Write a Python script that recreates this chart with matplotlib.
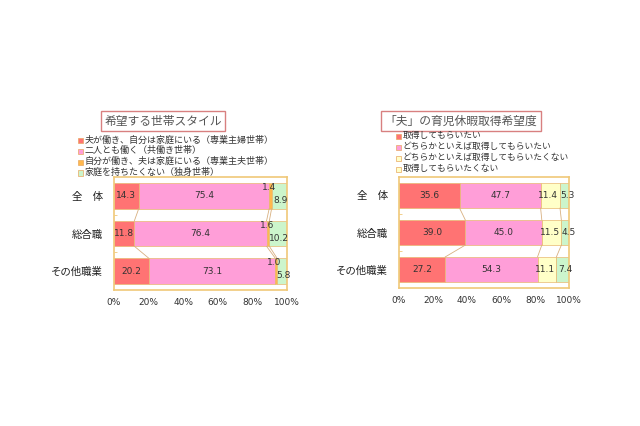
import matplotlib.pyplot as plt
from matplotlib.patches import Rectangle
import numpy as np

plt.rcParams['font.family'] = ['Noto Sans CJK JP', 'DejaVu Sans']

categories = ["全　体", "総合職", "その他職業"]

# left chart: household style
left_title = "希望する世帯スタイル"
left_legend = ["夫が働き、自分は家庭にいる（専業主婦世帯）",
               "二人とも働く（共働き世帯）",
               "自分が働き、夫は家庭にいる（専業主夫世帯）",
               "家庭を持ちたくない（独身世帯）"]
left_values = [[14.3, 75.4, 1.4, 8.9],
               [11.8, 76.4, 1.6, 10.2],
               [20.2, 73.1, 1.0, 5.8]]
left_colors = ["#FF7373", "#FF9ED8", "#FFB84D", "#CCF5CC"]

# right chart: husband's childcare leave
right_title = "「夫」の育児休暇取得希望度"
right_legend = ["取得してもらいたい",
                "どちらかといえば取得してもらいたい",
                "どちらかといえば取得してもらいたくない",
                "取得してもらいたくない"]
right_values = [[35.6, 47.7, 11.4, 5.3],
                [39.0, 45.0, 11.5, 4.5],
                [27.2, 54.3, 11.1, 7.4]]
right_colors = ["#FF7373", "#FF9ED8", "#FFFFC8", "#CCF5CC"]

border = "#F0C878"
bar_h = 0.68


def draw_chart(ax, values, colors, small_outside):
    vals = np.array(values)
    cum = np.cumsum(vals, axis=1)
    starts = cum - vals
    y = np.arange(len(categories))
    for j in range(vals.shape[1]):
        ax.barh(y, vals[:, j], left=starts[:, j], height=bar_h,
                color=colors[j], edgecolor="#E8B870", linewidth=0.5)
    # series lines between bars
    for i in range(len(y) - 1):
        for j in range(vals.shape[1] - 1):
            ax.plot([cum[i, j], cum[i + 1, j]],
                    [y[i] + bar_h / 2, y[i + 1] - bar_h / 2],
                    color="#D8B080", linewidth=0.6)
    for i in y:
        for j in range(vals.shape[1]):
            v = vals[i, j]
            x = starts[i, j] + v / 2
            yy = i
            if small_outside and j == 2:
                x = cum[i, j] - 1.5
                yy = i - 0.22
            elif small_outside and j == 3:
                x = starts[i, j] + v / 2 + 0.5
                yy = i + 0.12
            elif not small_outside and j == 2:
                x -= 1.2
            elif not small_outside and j == 3:
                x += 1.8
            ax.text(x, yy, f"{v:.1f}", ha="center", va="center",
                    fontsize=6.5, color="#333333", family="DejaVu Sans")
    ax.set_xlim(0, 100)
    ax.set_ylim(2.5, -0.5)
    ax.set_yticks(y)
    ax.set_yticklabels(categories, fontsize=7.5, color="#222222")
    ax.tick_params(axis="y", length=0, pad=8)
    ax.set_yticks([0.5, 1.5], minor=True)
    ax.tick_params(axis="y", which="minor", length=2, color=border, direction="in")
    ax.set_xticks(range(0, 101, 20))
    ax.set_xticklabels([f"{t}%" for t in range(0, 101, 20)], fontsize=6.5,
                       color="#333333", family="DejaVu Sans")
    ax.tick_params(axis="x", length=0, pad=6)
    for s in ax.spines.values():
        s.set_color(border)
        s.set_linewidth(1.2)


def draw_legend(fig, x, y0, dy, labels, colors, size):
    for k, (lab, c) in enumerate(zip(labels, colors)):
        yy = y0 - k * dy
        fig.patches.append(Rectangle((x, yy - 0.008), 0.008, 0.012,
                                     transform=fig.transFigure,
                                     facecolor=c, edgecolor="#E8A860",
                                     linewidth=0.5))
        fig.text(x + 0.010, yy, lab, fontsize=size, color="#333333", va="center")


fig = plt.figure(figsize=(6.4, 4.26), dpi=100)

ax1 = fig.add_axes([114 / 640, 1 - 290 / 426, 173 / 640, 113 / 426])
draw_chart(ax1, left_values, left_colors, True)

ax2 = fig.add_axes([399 / 640, 1 - 288 / 426, 170 / 640, 111 / 426])
draw_chart(ax2, right_values, right_colors, False)

title_box = dict(boxstyle="square,pad=0.3", facecolor="white",
                 edgecolor="#D88080", linewidth=1)
fig.text(163 / 640, 1 - 121 / 426, left_title, fontsize=8.5, color="#555555",
         ha="center", va="center", bbox=title_box)
fig.text(461 / 640, 1 - 121 / 426, right_title, fontsize=8.5, color="#555555",
         ha="center", va="center", bbox=title_box)

draw_legend(fig, 78 / 640, 1 - 140 / 426, 10.7 / 426, left_legend, left_colors, 6.5)
draw_legend(fig, 396 / 640, 1 - 135.5 / 426, 11 / 426, right_legend,
            ["#FF7373", "#FF9ED8", "#FFFFC8", "#FFFFC8"], 6.3)

fig.savefig("out.png", dpi=100, facecolor="white")
